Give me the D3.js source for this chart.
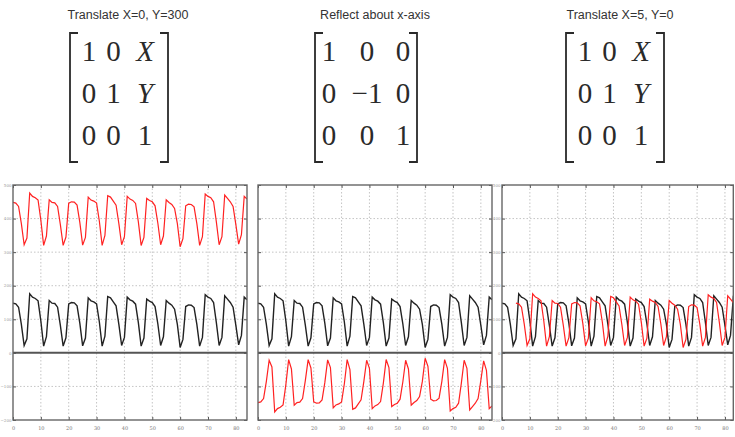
<!DOCTYPE html>
<html>
<head>
<meta charset="utf-8">
<script src="https://cdnjs.cloudflare.com/ajax/libs/d3/7.8.5/d3.min.js"></script>
<style>
  body { margin: 0; background: #fff; }
  svg { display: block; }
</style>
</head>
<body>
<div id="chart"></div>
<script>
// Original series (the black line), one value per x = 0..84
const baseValues = [148, 146, 136, 85, 22, 42, 176, 166, 162, 155,
                    95, 20, 48, 156, 148, 147, 136, 82, 20, 45,
                    146, 150, 149, 140, 88, 21, 44, 164, 155, 152,
                    146, 92, 20, 50, 168, 164, 152, 140, 85, 22,
                    46, 166, 158, 154, 145, 90, 20, 44, 160, 154,
                    150, 138, 86, 22, 48, 156, 148, 142, 130, 85,
                    16, 40, 138, 143, 142, 135, 85, 20, 46, 173,
                    166, 162, 150, 90, 22, 46, 170, 160, 150, 136,
                    82, 24, 52, 166, 158];

// One transform per panel
const panelTitles = ["Translate X=0, Y=300", "Reflect about x-axis", "Translate X=5, Y=0"];
const transX = [0, 0, 5];
const transY = [300, 0, 0];
const flipY = [1, -1, 1];
const xMax = [84, 84, 83];

const matrixTranslate = [["1", "0", "X"], ["0", "1", "Y"], ["0", "0", "1"]];
const matrixReflect = [["1", "0", "0"], ["0", "\u22121", "0"], ["0", "0", "1"]];

const xTicks = [0, 10, 20, 30, 40, 50, 60, 70, 80];
const yTicks = [-200, -100, 0, 100, 200, 300, 400, 500];

const W = 735, H = 437;
const svg = d3.select("#chart").append("svg")
    .attr("width", W)
    .attr("height", H);

// panel boxes
const panels = [
    {left: 13, right: 247, cx: 128, matrix: matrixTranslate, cols: [89, 113.5, 145], bl: 70, br: 168},
    {left: 258, right: 492, cx: 375, matrix: matrixReflect, cols: [329, 367, 403], bl: 315, br: 417},
    {left: 502, right: 733.3, cx: 620, matrix: matrixTranslate, cols: [585, 609.5, 641], bl: 566, br: 664}
];
const plotTop = 185, plotBottom = 420;

const y = d3.scaleLinear().domain([-200, 500]).range([plotBottom, plotTop]);

panels.forEach((p, i) => {
    const x = d3.scaleLinear().domain([0, xMax[i]]).range([p.left, p.right]);
    const g = svg.append("g");

    // title
    svg.append("text")
        .attr("x", p.cx)
        .attr("y", 19)
        .attr("text-anchor", "middle")
        .style("font-family", "Liberation Sans, Arial, sans-serif")
        .style("font-size", "12.5px")
        .style("fill", "#333")
        .text(panelTitles[i]);

    // matrix
    const rowsY = [61, 103, 145];
    p.matrix.forEach((row, r) => {
        row.forEach((cell, c) => {
            const italic = cell === "X" || cell === "Y";
            svg.append("text")
                .attr("x", p.cols[c])
                .attr("y", rowsY[r])
                .attr("text-anchor", "middle")
                .style("font-family", "Liberation Serif, Times New Roman, serif")
                .style("font-size", "29px")
                .style("font-style", italic ? "italic" : "normal")
                .style("fill", "#2a2a2a")
                .text(cell);
        });
    });
    const br = svg.append("g")
        .attr("fill", "none")
        .attr("stroke", "#2a2a2a")
        .attr("stroke-width", 1.8);
    br.append("path").attr("d", `M${p.bl + 8},33 H${p.bl} V162 H${p.bl + 8}`);
    br.append("path").attr("d", `M${p.br - 8},33 H${p.br} V162 H${p.br - 8}`);

    // grid
    g.append("g")
        .selectAll("line")
        .data(xTicks.filter(t => t > 0 && t < xMax[i]))
        .join("line")
        .attr("x1", d => x(d)).attr("x2", d => x(d))
        .attr("y1", plotTop).attr("y2", plotBottom)
        .attr("stroke", "#aaa")
        .attr("stroke-width", 0.7)
        .attr("stroke-dasharray", "1.5,2");
    g.append("g")
        .selectAll("line")
        .data(yTicks.filter(t => t > -200 && t < 500 && t !== 0))
        .join("line")
        .attr("x1", p.left).attr("x2", p.right)
        .attr("y1", d => y(d)).attr("y2", d => y(d))
        .attr("stroke", "#aaa")
        .attr("stroke-width", 0.7)
        .attr("stroke-dasharray", "1.5,2");

    // axes (inward ticks)
    const axB = g.append("g")
        .attr("transform", `translate(0,${plotBottom})`)
        .call(d3.axisBottom(x).tickValues(xTicks).tickSize(-3).tickPadding(6));
    const axT = g.append("g")
        .attr("transform", `translate(0,${plotTop})`)
        .call(d3.axisTop(x).tickValues(xTicks).tickSize(-3).tickFormat(""));
    const axL = g.append("g")
        .attr("transform", `translate(${p.left},0)`)
        .call(d3.axisLeft(y).tickValues(yTicks).tickSize(-3).tickPadding(1.5));
    const axR = g.append("g")
        .attr("transform", `translate(${p.right},0)`)
        .call(d3.axisRight(y).tickValues(yTicks).tickSize(-3).tickFormat(""));
    [axB, axT, axL, axR].forEach(a => {
        a.select(".domain").remove();
        a.selectAll(".tick line").attr("stroke", "#555");
        a.selectAll("text")
            .style("font-family", "DejaVu Serif, serif")
            .style("font-size", "5px")
            .style("fill", "#777");
    });
    axL.selectAll("text").style("font-size", "4px").style("fill", "#999");
    if (i === 1) axL.selectAll("text").remove();

    // clip
    const clipId = "clip" + i;
    svg.append("clipPath").attr("id", clipId)
        .append("rect")
        .attr("x", p.left).attr("y", plotTop)
        .attr("width", p.right - p.left).attr("height", plotBottom - plotTop);

    const line = d3.line()
        .x(d => x(d[0]))
        .y(d => y(d[1]));

    const base = baseValues.map((v, k) => [k, v]);
    const moved = baseValues.map((v, k) => [k + transX[i], flipY[i] * v + transY[i]]);

    const lines = g.append("g").attr("clip-path", `url(#${clipId})`);
    // zero line
    lines.append("line")
        .attr("x1", p.left).attr("x2", p.right)
        .attr("y1", y(0)).attr("y2", y(0))
        .attr("stroke", "#555")
        .attr("stroke-width", 2);
    lines.append("path")
        .datum(base)
        .attr("fill", "none")
        .attr("stroke", "#222")
        .attr("stroke-width", 1.4)
        .attr("d", line);
    lines.append("path")
        .datum(moved)
        .attr("fill", "none")
        .attr("stroke", "#f22")
        .attr("stroke-width", 1.2)
        .attr("d", line);

    // frame
    g.append("rect")
        .attr("x", p.left).attr("y", plotTop)
        .attr("width", p.right - p.left).attr("height", plotBottom - plotTop)
        .attr("fill", "none")
        .attr("stroke", "#666")
        .attr("stroke-width", 1.4);
});
</script>
</body>
</html>
